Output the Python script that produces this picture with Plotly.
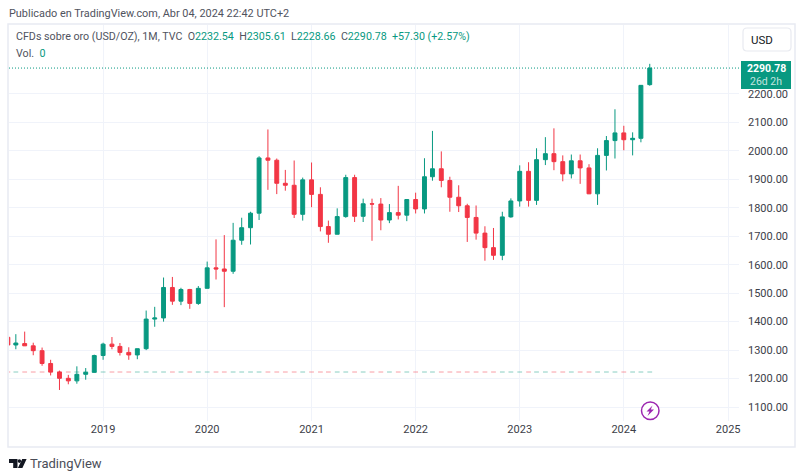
import plotly.graph_objects as go

W, H = 800, 475
PL, PR, PT, PB = 9, 739, 25, 421

dates = [f"{y}-{m:02d}-01" for y in range(2018, 2025) for m in range(1, 13)][1:76]

opens = [1345,1318,1323,1315,1298,1253,1223,1201,1192,1215,1222,
         1281,1321,1313,1292,1283,1305,1409,1413,1520,1472,1513,1464,
         1517,1589,1585,1577,1686,1730,1781,1975,1967,1886,1879,1777,
         1898,1847,1734,1707,1769,1906,1770,1814,1813,1757,1783,1774,
         1829,1796,1909,1937,1896,1837,1807,1766,1711,1660,1633,1768,
         1824,1928,1826,1969,1990,1962,1919,1965,1940,1849,1984,2036,
         2063,2039,2044,2232.54]
highs = [1362,1356,1365,1326,1309,1266,1228,1213,1243,1237,1284,
         1326,1346,1325,1310,1305,1439,1452,1555,1557,1519,1515,1525,
         1611,1689,1704,1747,1765,1786,1981,2075,1973,1933,1966,1906,
         1959,1872,1755,1798,1916,1916,1832,1832,1834,1813,1877,1830,
         1853,1974,2070,1998,1909,1879,1814,1808,1735,1729,1786,1833,
         1949,1960,2009,2048,2079,1984,1987,1987,1953,2009,2052,2146,
         2088,2065,2222,2305.61]
lows = [1307,1303,1315,1282,1245,1211,1160,1180,1182,1196,1221,
        1266,1303,1281,1266,1268,1300,1382,1400,1459,1458,1445,1459,
        1517,1548,1451,1568,1670,1671,1757,1863,1848,1860,1764,1755,
        1802,1717,1677,1707,1765,1750,1750,1684,1721,1746,1759,1753,
        1780,1780,1895,1872,1786,1785,1680,1688,1614,1617,1616,1765,
        1804,1804,1810,1950,1932,1893,1903,1884,1848,1810,1931,1973,
        2002,1984,2030,2228.66]
closes = [1318,1325,1315,1298,1253,1223,1201,1192,1215,1222,1281,
          1321,1313,1292,1283,1305,1409,1413,1520,1472,1513,1464,1517,
          1589,1585,1577,1686,1730,1781,1975,1967,1886,1879,1777,1898,
          1847,1734,1707,1769,1906,1770,1814,1813,1757,1783,1774,1829,
          1796,1909,1937,1896,1837,1807,1766,1711,1660,1633,1768,1824,
          1928,1826,1969,1990,1962,1919,1965,1940,1849,1984,2036,2063,
          2039,2044,2230,2290.78]
volumes = [0] * len(dates)

year_ticks = ["2019-01-01","2020-01-01","2021-01-01","2022-01-01","2023-01-01","2024-01-01","2025-01-01"]
year_labels = ["2019","2020","2021","2022","2023","2024","2025"]
price_ticks = [1100,1200,1300,1400,1500,1600,1700,1800,1900,2000,2100,2200]
price_labels = [f"{p}.00" for p in price_ticks]
last_price = closes[-1]

UP, DOWN = "#089981", "#f23645"
GRID = "#f0f3fa"
FONT = "Roboto"
TEXT = "#3c4048"

def px(x): return (x - PL) / (PR - PL)
def py(y): return (PB - y) / (PB - PT)

vol_colors = ["rgba(8,153,129,0.32)" if c >= o else "rgba(242,54,69,0.32)" for o, c in zip(opens, closes)]

fig = go.Figure()
fig.add_trace(go.Scatter(
    x=dates, y=volumes, mode="markers", yaxis="y2", hoverinfo="skip",
    marker=dict(symbol="line-ew", size=3.4, color=vol_colors,
                line=dict(width=1.5, color=vol_colors)),
))
fig.add_trace(go.Candlestick(
    x=dates, open=opens, high=highs, low=lows, close=closes,
    increasing=dict(line=dict(color=UP, width=1), fillcolor=UP),
    decreasing=dict(line=dict(color=DOWN, width=1), fillcolor=DOWN),
    whiskerwidth=0,
))

shapes = []
# chart frame
shapes.append(dict(type="rect", xref="paper", yref="paper", x0=px(8), x1=px(795), y0=py(447), y1=py(24),
                   line=dict(color="#e8eaf2", width=1.5), layer="below"))
# last price line
shapes.append(dict(type="line", xref="x domain", yref="y", x0=0, x1=1, y0=last_price, y1=last_price,
                   line=dict(color=UP, width=1, dash="1px,2px")))
# last price tag
shapes.append(dict(type="rect", xref="paper", yref="paper", x0=px(741), x1=px(791), y0=py(89), y1=py(61),
                   fillcolor=UP, line=dict(width=0), layer="above"))
# USD button
shapes.append(dict(type="path", xref="paper", yref="paper", layer="above",
                   path=f"M{px(747)},{py(28)} L{px(787)},{py(28)} Q{px(791)},{py(28)} {px(791)},{py(32)} "
                        f"L{px(791)},{py(47)} Q{px(791)},{py(51)} {px(787)},{py(51)} L{px(747)},{py(51)} "
                        f"Q{px(743)},{py(51)} {px(743)},{py(47)} L{px(743)},{py(32)} Q{px(743)},{py(28)} {px(747)},{py(28)} Z",
                   line=dict(color="#e8eaf0", width=1.2), fillcolor="white"))
# TradingView logo
shapes.append(dict(type="path", xref="paper", yref="paper", line=dict(width=0), fillcolor="#131722",
                   path=f"M{px(9)},{py(459)} L{px(17.5)},{py(459)} L{px(17.5)},{py(468)} L{px(13.2)},{py(468)} "
                        f"L{px(13.2)},{py(463)} L{px(9)},{py(463)} Z"))
shapes.append(dict(type="circle", xref="paper", yref="paper", line=dict(width=0), fillcolor="#131722",
                   x0=px(17.6), x1=px(21.2), y0=py(462.9), y1=py(459.3)))
shapes.append(dict(type="path", xref="paper", yref="paper", line=dict(width=0), fillcolor="#131722",
                   path=f"M{px(22.2)},{py(459)} L{px(26.6)},{py(459)} L{px(22.4)},{py(468)} L{px(17.9)},{py(468)} Z"))
# lightning badge
shapes.append(dict(type="circle", xref="paper", yref="paper", fillcolor="white",
                   line=dict(color="#9c27b0", width=1.5),
                   x0=px(641.5), x1=px(659), y0=py(419.5), y1=py(402)))
shapes.append(dict(type="path", xref="paper", yref="paper", line=dict(width=0), fillcolor="#9c27b0",
                   path=f"M{px(652.5)},{py(405.5)} L{px(646.5)},{py(411.5)} L{px(649.5)},{py(411.5)} "
                        f"L{px(647.5)},{py(416)} L{px(654)},{py(409.5)} L{px(650.8)},{py(409.5)} Z"))

def label(x, y, text, size=11.5, color=TEXT, xanchor="left"):
    return dict(xref="paper", yref="paper", x=px(x), y=py(y), text=text, showarrow=False,
                xanchor=xanchor, yanchor="middle", borderpad=0, align="left",
                font=dict(family=FONT, size=size, color=color))

def g(s): return f'<span style="color:{UP}">{s}</span>'

annotations = [
    label(8, 13, "Publicado en TradingView.com, Abr 04, 2024 22:42 UTC+2", 10.9, "#50535e"),
    label(15, 37, "CFDs sobre oro (USD/OZ), 1M, TVC  O" + g("2232.54") + "  H" + g("2305.61")
          + "  L" + g("2228.66") + "  C" + g("2290.78") + "  " + g("+57.30 (+2.57%)"), 10.7, "#50535e"),
    label(15, 53, "Vol.  " + g("0"), 10.7, "#50535e"),
    label(762, 40, "USD", 11.5, "#131722", "center"),
    label(766, 68.5, "<b>2290.78</b>", 10.5, "white", "center"),
    label(766, 81.5, "26d 2h", 10.5, "rgba(255,255,255,0.75)", "center"),
    label(29, 463.5, "TradingView", 13, "#4a4d57"),
]

fig.update_layout(
    width=W, height=H, showlegend=False,
    paper_bgcolor="white", plot_bgcolor="white",
    margin=dict(l=PL, r=W - PR, t=PT, b=H - PB, autoexpand=False),
    font=dict(family=FONT, size=12, color=TEXT),
    shapes=shapes, annotations=annotations,
    xaxis=dict(
        type="date", range=["2018-02-05", "2025-02-08"], rangeslider=dict(visible=False),
        tickmode="array", tickvals=year_ticks, ticktext=year_labels,
        showgrid=True, gridcolor=GRID, gridwidth=1, zeroline=False, showline=False,
        ticks="", tickfont=dict(family=FONT, size=11, color=TEXT),
    ),
    yaxis=dict(
        side="right", range=[1051, 2442], tickmode="array", tickvals=price_ticks, ticktext=price_labels,
        showgrid=True, gridcolor=GRID, gridwidth=1, zeroline=False, showline=False,
        ticks="", ticklabelstandoff=8, tickfont=dict(family=FONT, size=11, color=TEXT),
    ),
    yaxis2=dict(overlaying="y", range=[-0.1237, 0.8763], visible=False, fixedrange=True),
)

fig.write_html("out.html", config=dict(displayModeBar=False),
               post_script="document.body.style.margin='0';document.body.style.overflow='hidden';")
